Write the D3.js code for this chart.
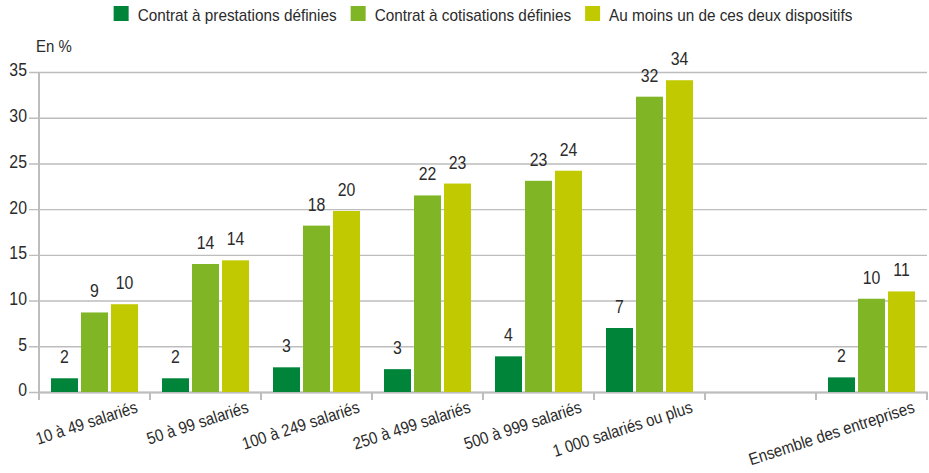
<!DOCTYPE html>
<html lang="fr">
<head>
<meta charset="utf-8">
<script src="https://cdn.jsdelivr.net/npm/d3@7"></script>
<style>
  html, body { margin: 0; padding: 0; background: #fff; }
  svg { display: block; font-family: "Liberation Sans", Arial, sans-serif; }
  text { fill: #2b2b2b; }
</style>
</head>
<body>
<svg id="chart" width="929" height="473"></svg>
<script>
// Taille d'entreprise
const categories = [
  "10 à 49 salariés",
  "50 à 99 salariés",
  "100 à 249 salariés",
  "250 à 499 salariés",
  "500 à 999 salariés",
  "1 000 salariés ou plus",
  "",
  "Ensemble des entreprises"
];

// Part des entreprises (en %)
const prestationsDefinies = [1.5, 1.5, 2.7, 2.5, 3.9, 7.0, null, 1.6];
const cotisationsDefinies = [8.7, 14.0, 18.2, 21.5, 23.1, 32.3, null, 10.2];
const auMoinsUn = [9.6, 14.4, 19.8, 22.8, 24.2, 34.1, null, 11.0];

const seriesNames = [
  "Contrat à prestations définies",
  "Contrat à cotisations définies",
  "Au moins un de ces deux dispositifs"
];
const seriesColors = ["#00843a", "#80b626", "#c1c900"];
const seriesValues = [prestationsDefinies, cotisationsDefinies, auMoinsUn];

const yTicks = [0, 5, 10, 15, 20, 25, 30, 35];
const yUnit = "En %";

const svg = d3.select("#chart");
const plot = { left: 39, right: 927, top: 72, bottom: 392 };
const gridColor = "#bdbdbd";
const fs = "17px";

// Police étroite : on resserre les glyphes horizontalement
function narrow(sel, k = 0.88) {
  sel.each(function () {
    const w = this.getComputedTextLength();
    if (w > 0) d3.select(this).attr("textLength", w * k).attr("lengthAdjust", "spacingAndGlyphs");
  });
}

const x0 = d3.scaleBand().domain(d3.range(categories.length)).range([plot.left, plot.right]).padding(0);
const x1 = d3.scaleBand().domain(d3.range(seriesNames.length))
  .range([12, x0.bandwidth() - 12]).paddingInner(0.1).paddingOuter(0);
const y = d3.scaleLinear().domain([0, 35]).range([plot.bottom, plot.top]);

// Grille horizontale et axe vertical
const yAxis = d3.axisLeft(y).tickValues(yTicks).tickSize(0).tickPadding(4);
const gy = svg.append("g").attr("transform", `translate(${plot.left - 10},0)`).call(yAxis);
gy.attr("font-family", null).attr("font-size", null);
gy.select(".domain").remove();
gy.selectAll(".tick line").attr("x1", 0).attr("x2", plot.right - plot.left + 10)
  .attr("stroke", gridColor).attr("stroke-width", 1.4);
gy.selectAll(".tick text").attr("x", -2).attr("dy", "0.22em")
  .style("font-size", "18px").style("fill", "#2b2b2b").call(narrow);

svg.append("line").attr("x1", plot.left).attr("x2", plot.left)
  .attr("y1", plot.top).attr("y2", plot.bottom + 8)
  .attr("stroke", gridColor).attr("stroke-width", 2);

svg.append("text").attr("x", 36).attr("y", 52).style("font-size", fs).text(yUnit).call(narrow);

// Axe horizontal
const xAxis = d3.axisBottom(x0).tickFormat(() => "").tickSize(0);
const gx = svg.append("g").attr("transform", `translate(0,${plot.bottom})`).call(xAxis);
gx.attr("font-family", null).attr("font-size", null);
gx.select(".domain").attr("stroke", gridColor).attr("stroke-width", 2);
gx.selectAll(".tick").remove();
const bounds = d3.range(categories.length + 1).map(i => plot.left + i * x0.step());
gx.selectAll(".sep").data(bounds).join("line").attr("class", "sep")
  .attr("x1", d => d).attr("x2", d => d).attr("y1", 0).attr("y2", 8)
  .attr("stroke", gridColor).attr("stroke-width", 2);

gx.selectAll(".lab").data(categories).join("text").attr("class", "lab")
  .attr("text-anchor", "end")
  .attr("transform", (d, i) => `translate(${x0(i) + x0.bandwidth() / 2 + 44},20) rotate(-18)`)
  .style("font-size", fs)
  .text(d => d)
  .call(narrow);

// Barres groupées
const groups = svg.append("g").selectAll("g").data(categories).join("g")
  .attr("transform", (d, i) => `translate(${x0(i)},0)`);

groups.each(function (cat, i) {
  const g = d3.select(this);
  const rows = seriesValues.map((vals, s) => ({ s, v: vals[i] })).filter(r => r.v != null);
  g.selectAll("rect").data(rows).join("rect")
    .attr("x", r => x1(r.s)).attr("width", x1.bandwidth())
    .attr("y", r => y(r.v)).attr("height", r => y(0) - y(r.v))
    .attr("fill", r => seriesColors[r.s]);
  g.selectAll("text").data(rows).join("text")
    .attr("x", r => x1(r.s) + x1.bandwidth() / 2)
    .attr("y", r => y(r.v) - 15)
    .attr("text-anchor", "middle")
    .style("font-size", "18px")
    .text(r => Math.round(r.v))
    .call(narrow);
});

// Légende
const legend = svg.append("g");
let lx = 0;
seriesNames.forEach((name, s) => {
  const item = legend.append("g").attr("transform", `translate(${lx},0)`);
  item.append("rect").attr("x", 0).attr("y", 6).attr("width", 15).attr("height", 15)
    .attr("fill", seriesColors[s]);
  const t = item.append("text").attr("x", 24).attr("y", 21).style("font-size", fs).text(name);
  const w = t.node().getComputedTextLength() * 0.9;
  t.attr("textLength", w).attr("lengthAdjust", "spacingAndGlyphs");
  lx += 24 + w + 14;
});
const legendWidth = lx - 14;
legend.attr("transform", `translate(${(plot.left + plot.right) / 2 - legendWidth / 2},0)`);
</script>
</body>
</html>
